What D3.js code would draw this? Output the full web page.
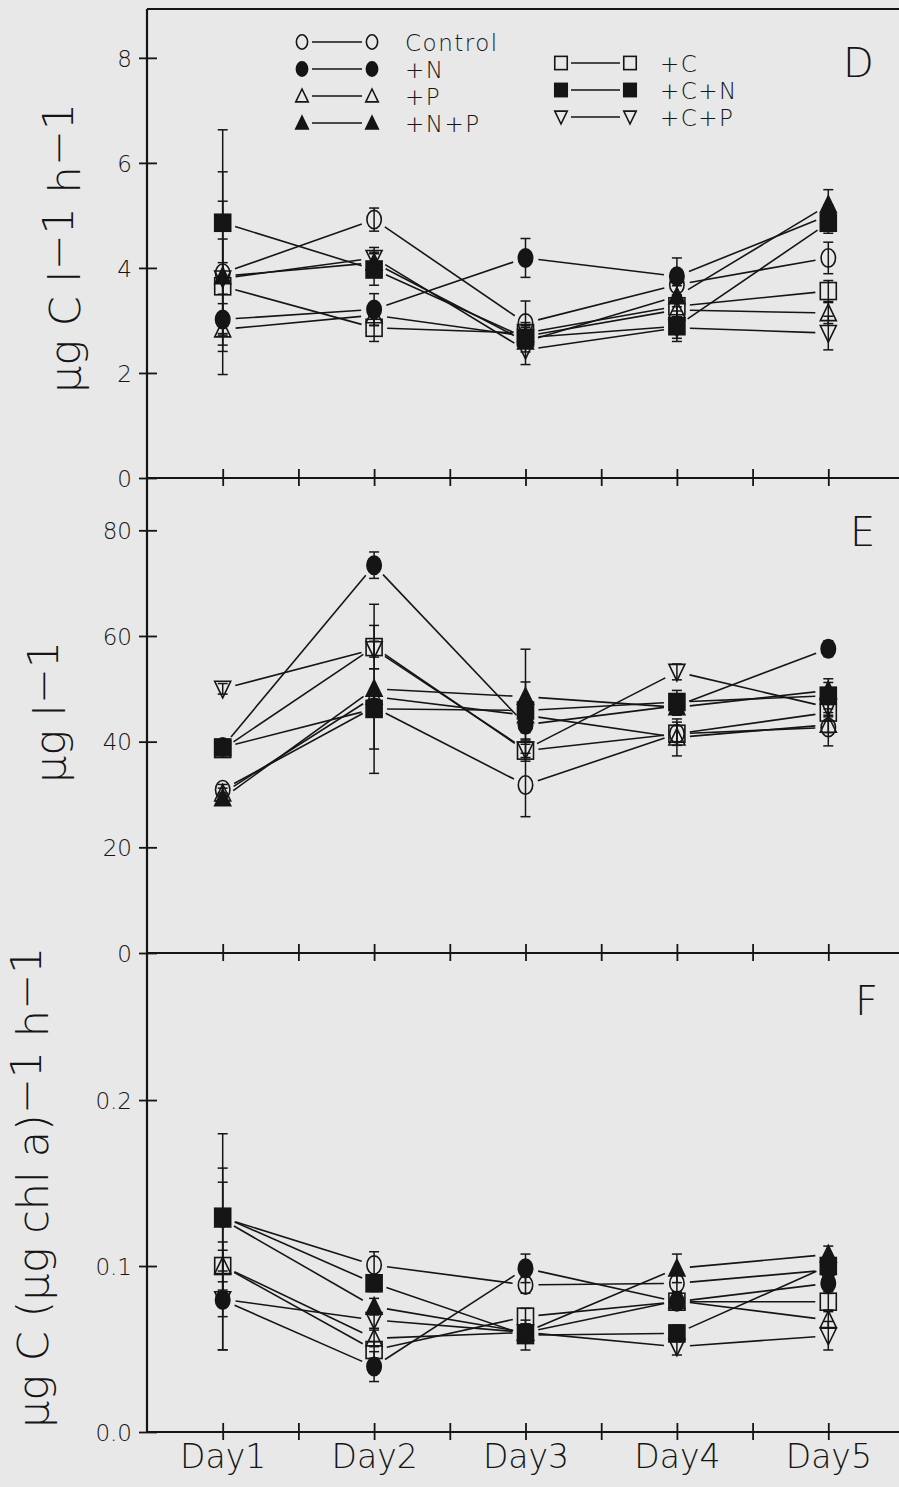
<!DOCTYPE html>
<html>
<head>
<meta charset="utf-8">
<script src="https://cdn.jsdelivr.net/npm/d3@7"></script>
<style>
  html, body { margin: 0; padding: 0; background: #e8e8e8; }
  svg { display: block; }
  text { font-family: "DejaVu Sans", sans-serif; font-weight: 200; fill: #151515; }
</style>
</head>
<body>
<svg id="chart" width="899" height="1487"></svg>
<script>
// ---- categories and treatments ----
const days = ["Day1", "Day2", "Day3", "Day4", "Day5"];
const dayPos = [1, 2, 3, 4, 5];
const treatments = ["Control", "+N", "+P", "+N+P", "+C", "+C+N", "+C+P"];
const shapes = ["circle", "circle", "up", "up", "square", "square", "down"];
const solid = [false, true, false, true, false, true, false];

// ---- panel D : production, ug C l-1 h-1 ----
const dTicks = [0, 2, 4, 6, 8];
const dControl = [3.90, 4.92, 2.95, 3.68, 4.19];
const dN       = [3.02, 3.21, 4.19, 3.84, 5.00];
const dP       = [2.83, 3.10, 2.70, 3.20, 3.14];
const dNP      = [3.84, 4.10, 2.60, 3.46, 5.20];
const dC       = [3.65, 2.86, 2.76, 3.27, 3.56];
const dCN      = [4.86, 3.97, 2.67, 2.89, 4.86];
const dCP      = [3.80, 4.19, 2.44, 2.86, 2.76];
const dControlErr = [1.93, 0.22, 0.42, 0.20, 0.30];
const dNErr       = [0.30, 0.30, 0.37, 0.35, 0.20];
const dPErr       = [0.30, 0.20, 0.20, 0.20, 0.20];
const dNPErr      = [1.43, 0.20, 0.20, 0.20, 0.29];
const dCErr       = [0.90, 0.26, 0.20, 0.20, 0.20];
const dCNErr      = [1.77, 0.30, 0.20, 0.29, 0.20];
const dCPErr      = [0.30, 0.20, 0.28, 0.20, 0.32];

// ---- panel E : chlorophyll, ug l-1 ----
const eTicks = [0, 20, 40, 60, 80];
const eControl = [30.9, 46.5, 31.8, 41.5, 42.7];
const eN       = [39.0, 73.4, 43.2, 46.8, 57.6];
const eP       = [30.2, 48.5, 45.0, 40.8, 43.2];
const eNP      = [29.3, 50.0, 48.5, 46.5, 49.7];
const eC       = [38.6, 57.9, 38.3, 41.5, 45.5];
const eCN      = [38.9, 46.2, 45.9, 47.5, 48.7];
const eCP      = [50.0, 57.5, 38.5, 53.2, 46.5];
const eControlErr = [1.0, 1.5, 6.0, 1.5, 3.5];
const eNErr       = [1.0, 2.5, 1.5, 1.5, 1.5];
const ePErr       = [1.0, 1.5, 1.5, 3.5, 1.5];
const eNPErr      = [1.0, 16.0, 9.0, 1.5, 1.5];
const eCErr       = [1.0, 4.1, 2.0, 2.2, 1.5];
const eCNErr      = [1.0, 7.6, 5.4, 2.2, 3.2];
const eCPErr      = [1.0, 1.5, 1.5, 1.5, 1.5];

// ---- panel F : chlorophyll-specific production ----
const fTicks = [0.0, 0.1, 0.2];
const fControl = [0.1290, 0.1006, 0.0886, 0.0896, 0.0976];
const fN       = [0.0795, 0.0394, 0.0986, 0.0785, 0.0896];
const fP       = [0.1000, 0.0564, 0.0600, 0.0790, 0.0675];
const fNP      = [0.1280, 0.0755, 0.0600, 0.0986, 0.1070];
const fC       = [0.1000, 0.0494, 0.0695, 0.0785, 0.0785];
const fCN      = [0.1297, 0.0896, 0.0584, 0.0594, 0.1000];
const fCP      = [0.0800, 0.0675, 0.0600, 0.0514, 0.0580];
const fControlErr = [0.005, 0.008, 0.005, 0.005, 0.005];
const fNErr       = [0.030, 0.009, 0.0086, 0.005, 0.005];
const fPErr       = [0.0145, 0.005, 0.005, 0.005, 0.005];
const fNPErr      = [0.031, 0.005, 0.005, 0.0086, 0.005];
const fCErr       = [0.0505, 0.005, 0.005, 0.005, 0.005];
const fCNErr      = [0.050, 0.005, 0.009, 0.005, 0.005];
const fCPErr      = [0.0105, 0.005, 0.005, 0.005, 0.0086];

// ---- layout ----
const svg = d3.select("#chart");
const ink = "#151515";
const left = 147, right = 904;
const x = d3.scaleLinear().domain([0.5, 5.5]).range([left, right]);
const xTickValues = d3.range(1, 5.01, 0.5);

const panels = [
  { letter: "D", letterX: 843, letterY: 77,
    y: d3.scaleLinear().domain([0, 8.93]).range([478, 9]),
    ticks: dTicks, fmt: d3.format("d"),
    values: [dControl, dN, dP, dNP, dC, dCN, dCP],
    errors: [dControlErr, dNErr, dPErr, dNPErr, dCErr, dCNErr, dCPErr] },
  { letter: "E", letterX: 850, letterY: 546,
    y: d3.scaleLinear().domain([0, 89.9]).range([953, 478]),
    ticks: eTicks, fmt: d3.format("d"),
    values: [eControl, eN, eP, eNP, eC, eCN, eCP],
    errors: [eControlErr, eNErr, ePErr, eNPErr, eCErr, eCNErr, eCPErr] },
  { letter: "F", letterX: 855, letterY: 1015,
    y: d3.scaleLinear().domain([0, 0.2886]).range([1432, 953]),
    ticks: fTicks, fmt: d3.format(".1f"),
    values: [fControl, fN, fP, fNP, fC, fCN, fCP],
    errors: [fControlErr, fNErr, fPErr, fNPErr, fCErr, fCNErr, fCPErr] }
];

// marker drawing: open markers stay hollow, solid ones are filled
function marker(g, shape, filled, cx, cy, s) {
  const fill = filled ? ink : "none";
  const common = el => el.attr("fill", fill).attr("stroke", ink).attr("stroke-width", 1.6);
  if (shape === "circle") {
    common(g.append("ellipse").attr("cx", cx).attr("cy", cy).attr("rx", 7.2 * s).attr("ry", 9.2 * s));
  } else if (shape === "square") {
    common(g.append("rect").attr("x", cx - 8 * s).attr("y", cy - 8.5 * s)
      .attr("width", 16 * s).attr("height", 17 * s));
  } else if (shape === "up") {
    common(g.append("path").attr("d",
      `M${cx},${cy - 9 * s}L${cx + 8 * s},${cy + 7.5 * s}L${cx - 8 * s},${cy + 7.5 * s}Z`));
  } else {
    common(g.append("path").attr("d",
      `M${cx},${cy + 9 * s}L${cx + 8 * s},${cy - 7.5 * s}L${cx - 8 * s},${cy - 7.5 * s}Z`));
  }
}

// segment between two points, trimmed so it stops short of the markers
function trimmed(g, x1, y1, x2, y2, gap) {
  const dx = x2 - x1, dy = y2 - y1, len = Math.hypot(dx, dy);
  const ux = dx / len, uy = dy / len;
  g.append("line")
    .attr("x1", x1 + ux * gap).attr("y1", y1 + uy * gap)
    .attr("x2", x2 - ux * gap).attr("y2", y2 - uy * gap)
    .attr("stroke", ink).attr("stroke-width", 1.6);
}

panels.forEach((p, pi) => {
  const g = svg.append("g");
  const y = p.y;

  // connecting lines
  const lines = g.append("g");
  p.values.forEach(vals => {
    for (let i = 0; i < vals.length - 1; i++) {
      trimmed(lines, x(dayPos[i]), y(vals[i]), x(dayPos[i + 1]), y(vals[i + 1]), 13);
    }
  });

  // error bars
  const bars = g.append("g").attr("stroke", ink).attr("stroke-width", 1.5);
  p.values.forEach((vals, si) => {
    vals.forEach((v, i) => {
      const e = p.errors[si][i];
      const cx = x(dayPos[i]);
      const yHi = y(v + e), yLo = y(v - e);
      bars.append("line").attr("x1", cx).attr("x2", cx).attr("y1", yHi).attr("y2", yLo);
      [yHi, yLo].forEach(yy =>
        bars.append("line").attr("x1", cx - 5).attr("x2", cx + 5).attr("y1", yy).attr("y2", yy));
    });
  });

  // markers
  const marks = g.append("g");
  p.values.forEach((vals, si) => {
    vals.forEach((v, i) => marker(marks, shapes[si], solid[si], x(dayPos[i]), y(v), 1));
  });

  // y axis
  const yAxis = g.append("g").attr("transform", `translate(${left},0)`)
    .call(d3.axisLeft(y).tickValues(p.ticks).tickFormat(p.fmt).tickSize(8));
  yAxis.select(".domain").remove();
  yAxis.selectAll(".tick line").attr("x1", 10).attr("x2", -8)
    .attr("stroke", ink).attr("stroke-width", 1.8);
  yAxis.selectAll(".tick text").attr("x", -15).attr("dy", "0.36em")
    .style("font-size", "23px").style("font-family", "'DejaVu Sans', sans-serif")
    .style("font-weight", 200).attr("fill", ink);

  // x axis along the panel bottom
  const x0 = y.range()[0];
  const xAxis = g.append("g").attr("transform", `translate(0,${x0})`)
    .call(d3.axisBottom(x).tickValues(xTickValues).tickSize(8)
      .tickFormat(d => (pi === 2 && Number.isInteger(d)) ? days[d - 1] : ""));
  xAxis.select(".domain").remove();
  xAxis.selectAll(".tick line").attr("y1", -9).attr("y2", 8)
    .attr("stroke", ink).attr("stroke-width", 1.8);
  xAxis.selectAll(".tick text").attr("y", 36).attr("dy", "0")
    .style("font-size", "33px").style("font-family", "'DejaVu Sans', sans-serif")
    .style("font-weight", 200).attr("fill", ink);

  g.append("line").attr("x1", left).attr("x2", right).attr("y1", x0).attr("y2", x0)
    .attr("stroke", ink).attr("stroke-width", 2.2);

  // panel letter
  g.append("text").attr("x", p.letterX).attr("y", p.letterY)
    .style("font-size", "40px").text(p.letter);
});

// frame: left axis and top border
svg.append("line").attr("x1", left).attr("x2", left).attr("y1", 9).attr("y2", 1432)
  .attr("stroke", ink).attr("stroke-width", 2.2);
svg.append("line").attr("x1", left).attr("x2", right).attr("y1", 9).attr("y2", 9)
  .attr("stroke", ink).attr("stroke-width", 2.2);

// ---- y axis titles (rotated, with raised exponents) ----
function title(tx, ty, parts) {
  const t = svg.append("text").attr("transform", `translate(${tx},${ty}) rotate(-90)`)
    .style("font-size", "43px");
  let raised = false;
  parts.forEach(([str, sup]) => {
    const dyv = sup && !raised ? "-0.17em" : (!sup && raised ? "0.17em" : "0");
    t.append("tspan").attr("dy", dyv).text(str);
    raised = sup;
  });
}
title(80, 393, [["μg C l", false], ["−1", true], [" h", false], ["−1", true]]);
title(65, 783, [["μg l", false], ["−1", true]]);
title(48, 1428, [["μg C (μg chl a)", false], ["−1", true], [" h", false], ["−1", true]]);

// ---- legend ----
const legend = svg.append("g");
const legendCols = [
  { idx: [0, 1, 2, 3], m1: 302, m2: 372, tx: 405, y0: 42, dy: 27 },
  { idx: [4, 5, 6],    m1: 561, m2: 630, tx: 660, y0: 63, dy: 27 }
];
legendCols.forEach(col => {
  col.idx.forEach((si, r) => {
    const yy = col.y0 + r * col.dy;
    marker(legend, shapes[si], solid[si], col.m1, yy, 0.78);
    marker(legend, shapes[si], solid[si], col.m2, yy, 0.78);
    legend.append("line").attr("x1", col.m1 + 10).attr("x2", col.m2 - 10)
      .attr("y1", yy).attr("y2", yy).attr("stroke", ink).attr("stroke-width", 1.6);
    legend.append("text").attr("x", col.tx).attr("y", yy + 9)
      .style("font-size", "23px").style("letter-spacing", "1.5px").text(treatments[si]);
  });
});
</script>
</body>
</html>
